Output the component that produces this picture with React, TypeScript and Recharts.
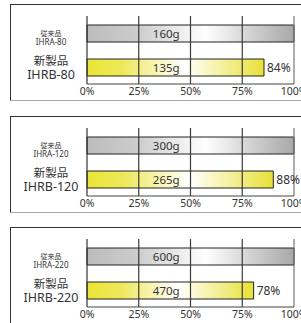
import { BarChart, Bar, XAxis, YAxis, Cell, LabelList, ReferenceLine } from 'recharts'

const oldTitle = '従来品'
const newTitle = '新製品'
const oldModels = ['IHRA-80', 'IHRA-120', 'IHRA-220']
const newModels = ['IHRB-80', 'IHRB-120', 'IHRB-220']
const oldWeights = ['160g', '300g', '600g']
const newWeights = ['135g', '265g', '470g']
const oldRatio = [100, 100, 100]
const newRatio = [85.5, 90, 80.5]
const ratioLabels = ['84%', '88%', '78%']
const xTicks = [0, 25, 50, 75, 100]

const panelTops = [4, 116, 227]
const font = '"Noto Sans", "Noto Sans CJK JP", sans-serif'
const ink = '#333'

function Panel({ i }: { i: number }) {
  const data = [
    { key: 'old', value: oldRatio[i], weight: oldWeights[i] },
    { key: 'new', value: newRatio[i], weight: newWeights[i] },
  ]

  const yTick = (props: any) => {
    const { y, payload } = props
    const st = { fontFamily: font, fill: ink }
    if (payload.value === 'old') {
      return (
        <g>
          <text x={40} y={y + 2.5} fontSize={7} textAnchor="middle" style={st}>{oldTitle}</text>
          <text x={40} y={y + 12} fontSize={8} textAnchor="middle" style={st}>{oldModels[i]}</text>
        </g>
      )
    }
    return (
      <g>
        <text x={40} y={y - 2} fontSize={11.5} textAnchor="middle" style={st}>{newTitle}</text>
        <text x={40} y={y + 11.5} fontSize={12.5} textAnchor="middle" style={st}>{newModels[i]}</text>
      </g>
    )
  }

  const weightLabel = (props: any) => {
    const { x, y, width, height, value, index } = props
    const full = (width * 100) / data[index].value
    return (
      <text x={x + full * 0.383} y={y + height / 2 + 4} textAnchor="middle" fontSize={11.5} style={{ fontFamily: font, fill: ink }}>
        {value}
      </text>
    )
  }

  const pctLabel = (props: any) => {
    const { x, y, width, height, index } = props
    if (index !== 1) return null
    return (
      <text x={x + width + 3} y={y + height / 2 + 4} fontSize={12} style={{ fontFamily: font, fill: ink }}>
        {ratioLabels[i]}
      </text>
    )
  }

  return (
    <div
      style={{
        position: 'absolute',
        left: 10,
        top: panelTops[i],
        width: 291,
        height: 97,
        borderLeft: '1px solid #333',
        borderTop: '1px solid #333',
        borderBottom: '1px solid #aaa',
        boxSizing: 'border-box',
        overflow: 'hidden',
      }}
    >
      <BarChart
        width={291}
        height={95}
        data={data}
        layout="vertical"
        margin={{ top: 11, right: 8, bottom: 0, left: 0 }}
        barSize={17}
        style={{ overflow: 'visible' }}
      >
        <defs>
          <linearGradient id={`gray${i}`} x1="0" y1="0" x2="1" y2="0">
            <stop offset="0" stopColor="#bcbcbc" />
            <stop offset="0.25" stopColor="#cdcdcd" />
            <stop offset="0.57" stopColor="#ffffff" />
            <stop offset="1" stopColor="#a8a8a8" />
          </linearGradient>
          <linearGradient id={`yellow${i}`} x1="0" y1="0" x2="1" y2="0">
            <stop offset="0" stopColor="#ebe536" />
            <stop offset="0.2" stopColor="#eee85a" />
            <stop offset="0.55" stopColor="#ffffff" />
            <stop offset="1" stopColor="#e8e136" />
          </linearGradient>
        </defs>
        <XAxis
          type="number"
          domain={[0, 100]}
          ticks={xTicks}
          tickFormatter={(v) => `${v}%`}
          tick={{ fill: ink, fontSize: 10.5, fontFamily: font }}
          tickSize={2}
          tickMargin={2}
          tickLine={false}
          axisLine={{ stroke: '#444' }}
          height={16}
          interval={0}
        />
        <YAxis type="category" dataKey="key" width={76} axisLine={false} tickLine={false} tick={yTick} />
        <Bar dataKey="value" stroke="#222" strokeWidth={1} isAnimationActive={false}>
          <Cell fill={`url(#gray${i})`} />
          <Cell fill={`url(#yellow${i})`} />
          <LabelList dataKey="weight" content={weightLabel} />
          <LabelList dataKey="value" content={pctLabel} />
        </Bar>
        <ReferenceLine x={0} stroke="#333" strokeWidth={1.2} />
        <ReferenceLine x={25} stroke="#3a3a3a" strokeWidth={1.2} />
        <ReferenceLine x={50} stroke="#3a3a3a" strokeWidth={1.2} />
        <ReferenceLine x={75} stroke="#3a3a3a" strokeWidth={1.2} />
        <ReferenceLine x={100} stroke="#777" strokeWidth={1.2} />
      </BarChart>
    </div>
  )
}

export default function App() {
  return (
    <div style={{ width: 301, height: 323, position: 'relative', overflow: 'hidden' }}>
      <style>{'body { margin: 0; overflow: hidden; }'}</style>
      {[0, 1, 2].map((i) => (
        <Panel key={i} i={i} />
      ))}
    </div>
  )
}
